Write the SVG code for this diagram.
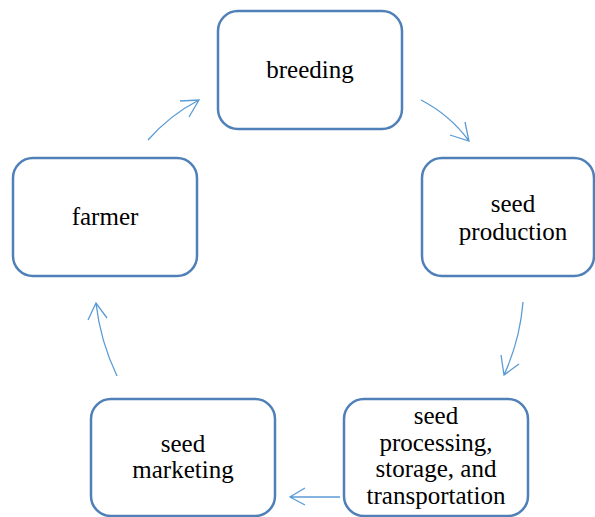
<svg xmlns="http://www.w3.org/2000/svg" width="595" height="517" viewBox="0 0 595 517">
<style>
.box{fill:#fff;stroke:#5080b8;stroke-width:2.5}
.t{font-size:25px;fill:#000;text-anchor:middle}
.c{fill:none;stroke:#5b9bd5;stroke-width:1.3}
</style>
<rect width="595" height="517" fill="#fff"/>
<g font-family="Liberation Serif, DejaVu Serif, serif">
<g id="breeding"><rect class="box" x="218" y="11" width="184" height="118" rx="20"/><text class="t" x="310" y="78">breeding</text></g>
<g id="seed-production"><rect class="box" x="422" y="158" width="172" height="118" rx="20"/><text class="t" x="513" y="212">seed</text><text class="t" x="513" y="240">production</text></g>
<g id="seed-processing"><rect class="box" x="344" y="399" width="184" height="117" rx="20"/><text class="t" x="436" y="424">seed</text><text class="t" x="436" y="451">processing,</text><text class="t" x="436" y="477">storage, and</text><text class="t" x="436" y="504">transportation</text></g>
<g id="seed-marketing"><rect class="box" x="91" y="399" width="184" height="117" rx="20"/><text class="t" x="183" y="452">seed</text><text class="t" x="183" y="478">marketing</text></g>
<g id="farmer"><rect class="box" x="13" y="158" width="184" height="118" rx="20"/><text class="t" x="105" y="225">farmer</text></g>
</g>
<g id="connectors">
<path class="c" d="M148,140 Q170,115 199,100 M180,101 L199,100 L189,117"/>
<path class="c" d="M421,100 Q450,115 469,141 M450,135 L469,141 L465,122"/>
<path class="c" d="M523,302 Q520,340 504,375 M501,355 L504,375 L519,364"/>
<path class="c" d="M340,497 L290,497 M305,488 L290,497 L305,505"/>
<path class="c" d="M117,376 Q100,340 96,303 M88,320 L96,303 L107,318"/>
</g>
</svg>
